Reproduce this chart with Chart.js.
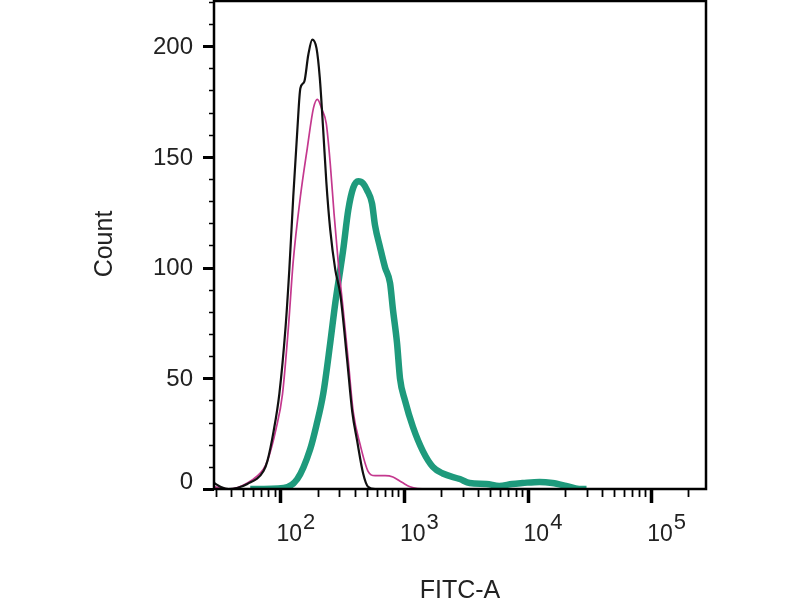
<!DOCTYPE html>
<html>
<head>
<meta charset="utf-8">
<script src="https://cdn.jsdelivr.net/npm/chart.js@4/dist/chart.umd.min.js"></script>
<style>
  html, body { margin: 0; padding: 0; background: #fff; }
</style>
</head>
<body>
<canvas id="histChart" width="800" height="600"></canvas>
<script>
// FITC-A intensity (log scale) and event counts
const blackX = [29, 33, 38, 54, 73, 78.5, 88, 98, 110, 118, 127, 137, 145, 156, 168, 181, 196, 208, 222, 235, 253, 278, 305, 347, 381, 417, 467, 512, 584, 278000];
const blackY = [2.7, 0.9, 0, 2.3, 8.1, 12.7, 26, 43, 73, 99, 132, 162, 181, 184, 196, 203, 199, 186, 162, 139, 117, 99, 88, 58, 35, 22, 7, 1, 0, 0];

const magentaX = [29, 38, 54, 73, 78.5, 92, 104, 116, 127, 145, 165, 185, 199, 218, 235, 253, 272, 293, 322, 354, 388, 442, 512, 584, 703, 814, 962, 1120, 1530, 278000];
const magentaY = [1, 0, 2.7, 9, 12.7, 27, 43, 73, 103, 132, 154, 172, 176, 171, 165, 147, 124, 103, 81, 58, 35, 20, 8, 6, 6, 5.4, 3, 1, 0, 0];

const tealX = [57, 106, 137, 174, 195, 222, 253, 278, 305, 322, 354, 388, 426, 467, 502, 551, 583, 641, 703, 771, 814, 878, 928, 1018, 1182, 1425, 1712, 2060, 2830, 3400, 4650, 5900, 7500, 9100, 12500, 15900, 20500, 26200, 30000];
const tealY = [0, 0.5, 4.5, 18, 28.5, 43, 66, 84, 99, 108, 126, 136, 139, 138, 135, 129, 119, 109, 100, 93, 81, 66, 50, 40, 28, 17, 10, 7, 4.5, 2.7, 2.3, 1.4, 2.3, 2.7, 3.2, 2.7, 1.4, 0, 0];

// axis ticks
const yMajor = [0, 50, 100, 150, 200];
const yMinorStep = 10;
const xDecades = [10, 100, 1000, 10000, 100000];
const xLabelled = [2, 3, 4, 5];   // exponents that get a label
const xMinorMult = [2, 3, 4, 5, 6, 7, 8, 9];

const xMin = 29;
const xMax = 278000;
const yMax = 220.4;

const toPoints = (xs, ys) => xs.map((v, i) => ({ x: v, y: ys[i] }));

const FONT = '"Liberation Sans", Arial, sans-serif';
const TEXT = '#222';

const flowAxes = {
  id: 'flowAxes',
  afterDatasetsDraw(chart) {
    const { ctx, chartArea: a, scales: { x, y } } = chart;
    ctx.save();
    ctx.strokeStyle = '#000';
    ctx.lineCap = 'butt';

    // frame
    ctx.lineWidth = 2.5;
    ctx.strokeRect(a.left, a.top, a.right - a.left, a.bottom - a.top);

    // y ticks
    for (let v = 0; v <= yMax; v += yMinorStep) {
      const py = Math.round(y.getPixelForValue(v)) + 0.5;
      const major = yMajor.includes(v);
      ctx.lineWidth = major ? 3 : 1.5;
      ctx.beginPath();
      ctx.moveTo(a.left - (major ? 11 : 5), py);
      ctx.lineTo(a.left, py);
      ctx.stroke();
    }

    // x ticks
    xDecades.forEach(d => {
      [1, ...xMinorMult].forEach(m => {
        const v = d * m;
        if (v < xMin || v > xMax) return;
        const px = Math.round(x.getPixelForValue(v)) + 0.5;
        const major = m === 1;
        ctx.lineWidth = major ? 3.5 : 1.8;
        ctx.beginPath();
        ctx.moveTo(px, a.bottom);
        ctx.lineTo(px, a.bottom + (major ? 14 : 8));
        ctx.stroke();
      });
    });

    ctx.fillStyle = TEXT;

    // y labels
    ctx.font = '24px ' + FONT;
    ctx.textAlign = 'right';
    ctx.textBaseline = 'middle';
    yMajor.forEach(v => {
      const py = y.getPixelForValue(v);
      ctx.fillText(String(v), a.left - 21, v === 0 ? py - 7 : py + 1);
    });

    // x labels 10^n
    xLabelled.forEach(e => {
      const px = x.getPixelForValue(Math.pow(10, e));
      ctx.textAlign = 'left';
      ctx.textBaseline = 'alphabetic';
      ctx.font = '23px ' + FONT;
      ctx.fillText('10', px - 4, a.bottom + 52);
      const w = ctx.measureText('10').width;
      ctx.font = '22px ' + FONT;
      ctx.fillText(String(e), px - 4 + w + 1, a.bottom + 40);
    });

    // axis titles
    ctx.font = '25px ' + FONT;
    ctx.textAlign = 'center';
    ctx.textBaseline = 'alphabetic';
    ctx.fillText('FITC-A', 460, 598);

    ctx.save();
    ctx.translate(112, 244);
    ctx.rotate(-Math.PI / 2);
    ctx.textBaseline = 'alphabetic';
    ctx.fillText('Count', 0, 0);
    ctx.restore();

    ctx.restore();
  }
};

new Chart(document.getElementById('histChart'), {
  type: 'line',
  data: {
    datasets: [
      {
        label: 'Sample',
        data: toPoints(tealX, tealY),
        borderColor: '#1e9a7c',
        borderWidth: 6.5,
        pointRadius: 0,
        cubicInterpolationMode: 'monotone',
        order: 3,
      },
      {
        label: 'Isotype',
        data: toPoints(magentaX, magentaY),
        borderColor: '#c4388e',
        borderWidth: 1.7,
        pointRadius: 0,
        cubicInterpolationMode: 'monotone',
        order: 2,
      },
      {
        label: 'Blank',
        data: toPoints(blackX, blackY),
        borderColor: '#111',
        borderWidth: 2.2,
        pointRadius: 0,
        cubicInterpolationMode: 'monotone',
        order: 1,
      },
    ],
  },
  options: {
    responsive: false,
    animation: false,
    devicePixelRatio: 1,
    layout: { padding: { left: 214, right: 94, top: 1, bottom: 111 } },
    plugins: {
      legend: { display: false },
      tooltip: { enabled: false },
    },
    scales: {
      x: { type: 'logarithmic', min: xMin, max: xMax, display: false },
      y: { type: 'linear', min: 0, max: yMax, display: false },
    },
  },
  plugins: [flowAxes],
});
</script>
</body>
</html>
